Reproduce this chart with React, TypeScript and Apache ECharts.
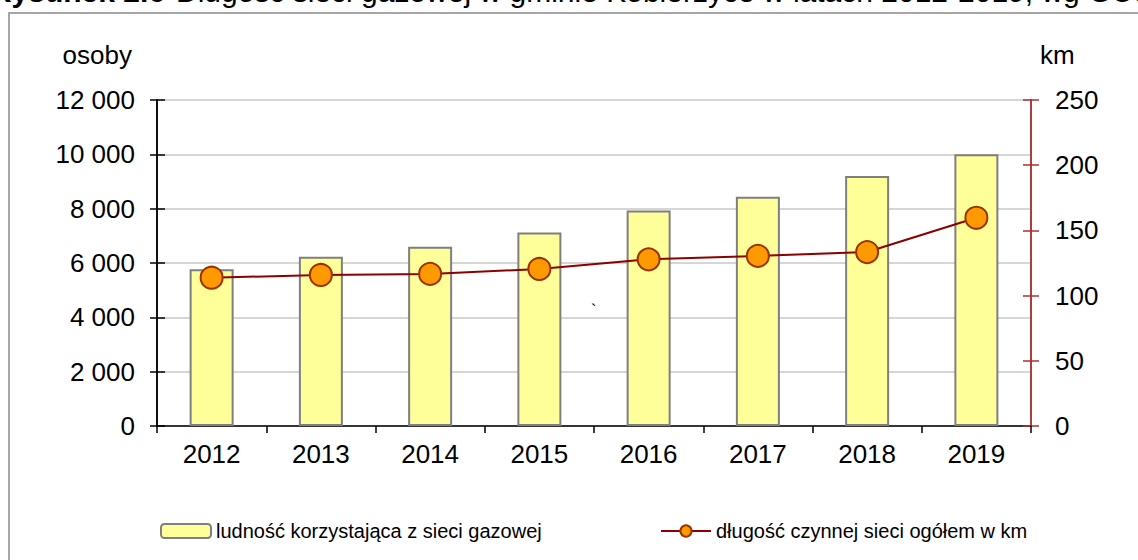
import React, { useEffect, useRef } from "react";
import * as echarts from "echarts";

const years = ["2012", "2013", "2014", "2015", "2016", "2017", "2018", "2019"];
const population = [5770, 6230, 6600, 7120, 7930, 8440, 9200, 10000];
const networkKm = [113.7, 115.8, 116.6, 120.4, 127.8, 130.4, 133.4, 159.7];
const barName = "ludność korzystająca z sieci gazowej";
const lineName = "długość czynnej sieci ogółem w km";
const titleBold = "Rysunek 2.6";
const titleText = "Długość sieci gazowej w gminie Kobierzyce w latach 2012-2019, wg GUS";

const FONT = "'Liberation Sans', Arial, sans-serif";
const fmt = (v: number) => String(v).replace(/\B(?=(\d{3})+(?!\d))/g, " ");

export default function App() {
  const ref = useRef<HTMLDivElement>(null);
  useEffect(() => {
    if (!ref.current) return;
    const chart = echarts.init(ref.current, undefined, { renderer: "svg" });
    const red = "#a83232";
    chart.setOption({
      animation: false,
      backgroundColor: "#ffffff",
      textStyle: { fontFamily: FONT },
      grid: { left: 157, right: 107, top: 100, bottom: 134, containLabel: false },
      xAxis: {
        type: "category",
        data: years,
        axisLine: { lineStyle: { color: "#000", width: 1.5 } },
        axisTick: { show: true, length: 7, lineStyle: { color: "#000", width: 1.5 } },
        axisLabel: { fontSize: 26, color: "#000", margin: 15, fontFamily: FONT },
      },
      yAxis: [
        {
          type: "value", position: "left", min: 0, max: 12000, interval: 2000,
          axisLine: { show: true, lineStyle: { color: "#000", width: 1.5 } },
          axisTick: { show: true, length: 7, lineStyle: { color: "#000", width: 1.5 } },
          axisLabel: { fontSize: 26, color: "#000", margin: 22, formatter: fmt, fontFamily: FONT },
          splitLine: { show: true, lineStyle: { color: "#c8c8c8", width: 1.5 } },
        },
        {
          type: "value", position: "right", min: 0, max: 250, interval: 50,
          axisLine: { show: true, lineStyle: { color: red, width: 1.5 } },
          axisTick: { show: true, length: 8, lineStyle: { color: red, width: 1.5 } },
          axisLabel: { fontSize: 26, color: "#000", margin: 24, fontFamily: FONT },
          splitLine: { show: false },
        },
        {
          type: "value", position: "left", min: 0, max: 12000, interval: 2000,
          axisLine: { show: true, lineStyle: { color: "#000", width: 1.5 } },
          axisTick: { show: true, inside: true, length: 8, lineStyle: { color: "#000", width: 1.5 } },
          axisLabel: { show: false },
          splitLine: { show: false },
        },
        {
          type: "value", position: "right", min: 0, max: 250, interval: 50,
          axisLine: { show: true, lineStyle: { color: red, width: 1.5 } },
          axisTick: { show: true, inside: true, length: 8, lineStyle: { color: red, width: 1.5 } },
          axisLabel: { show: false },
          splitLine: { show: false },
        },
      ],
      legend: [
        {
          data: [barName], left: 155, top: 516, itemWidth: 50, itemHeight: 14,
          textStyle: { fontSize: 20, color: "#000", fontFamily: FONT },
        },
        {
          data: [lineName], left: 655, top: 516, itemWidth: 50, itemHeight: 14,
          textStyle: { fontSize: 20, color: "#000", fontFamily: FONT },
        },
      ],
      graphic: [
        {
          type: "rect", shape: { x: 9, y: 13, width: 1300, height: 700 },
          style: { fill: "none", stroke: "#a6a6a6", lineWidth: 2 }, silent: true,
        },
        {
          type: "text", x: 165, y: 6,
          style: { text: titleBold, font: `bold 30px ${FONT}`, fill: "#000", textAlign: "right", textVerticalAlign: "bottom" },
        },
        {
          type: "text", x: 176, y: 6,
          style: { text: titleText, font: `30px ${FONT}`, fill: "#000", textAlign: "left", textVerticalAlign: "bottom" },
        },
        {
          type: "text", x: 132, y: 55,
          style: { text: "osoby", font: `26px ${FONT}`, fill: "#000", textAlign: "right", textVerticalAlign: "middle" },
        },
        {
          type: "text", x: 1040, y: 55,
          style: { text: "km", font: `26px ${FONT}`, fill: "#000", textAlign: "left", textVerticalAlign: "middle" },
        },
        {
          type: "text", x: 591, y: 302,
          style: { text: "`", font: `16px ${FONT}`, fill: "#000" },
        },
      ],
      series: [
        {
          name: barName, type: "bar", yAxisIndex: 0, data: population, barWidth: 44,
          itemStyle: { color: "#ffff99", borderColor: "#7f7f7f", borderWidth: 2 },
        },
        {
          name: lineName, type: "line", yAxisIndex: 1, data: networkKm,
          symbol: "circle", symbolSize: 22,
          lineStyle: { color: "#8b0000", width: 2 },
          itemStyle: { color: "#ff9900", borderColor: "#993300", borderWidth: 2 },
        },
      ],
    });
    return () => chart.dispose();
  }, []);
  return (
    <div
      ref={ref}
      style={{ position: "fixed", left: 0, top: 0, width: 1138, height: 560 }}
    />
  );
}
